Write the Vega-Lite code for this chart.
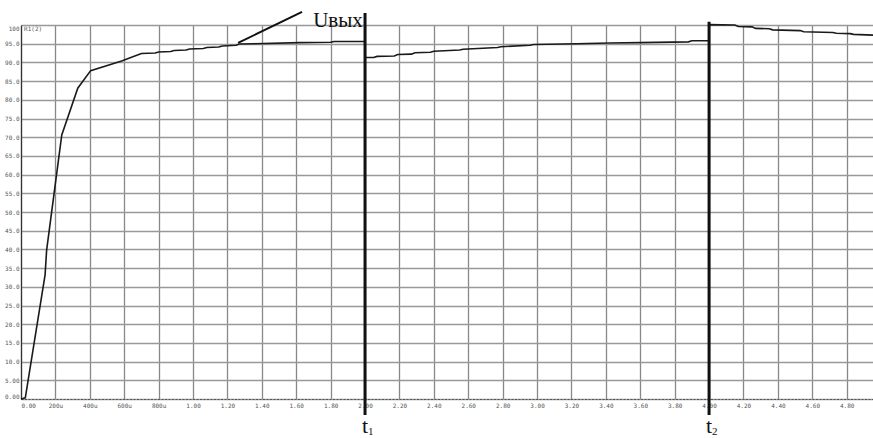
{
  "$schema": "https://vega.github.io/schema/vega-lite/v6.json",
  "width": 852,
  "height": 374,
  "autosize": {"type": "none"},
  "padding": {"left": 21, "top": 25, "right": 0, "bottom": 39},
  "background": "white",
  "config": {"view": {"stroke": null}},
  "datasets": {
    "curve": [
      {"t": 0, "u": 0}, {"t": 0.025, "u": 0.3}, {"t": 0.14, "u": 33.2}, {"t": 0.149, "u": 39.8},
      {"t": 0.237, "u": 70.6}, {"t": 0.33, "u": 83.1}, {"t": 0.405, "u": 87.8}, {"t": 0.585, "u": 90.4},
      {"t": 0.70, "u": 92.4}, {"t": 0.78, "u": 92.5}, {"t": 0.80, "u": 92.8}, {"t": 0.87, "u": 92.9},
      {"t": 0.89, "u": 93.2}, {"t": 0.96, "u": 93.3}, {"t": 0.98, "u": 93.6}, {"t": 1.06, "u": 93.7},
      {"t": 1.08, "u": 94.0}, {"t": 1.15, "u": 94.1}, {"t": 1.17, "u": 94.4}, {"t": 1.25, "u": 94.6},
      {"t": 1.27, "u": 94.9}, {"t": 1.35, "u": 95.0}, {"t": 1.62, "u": 95.3}, {"t": 1.80, "u": 95.4},
      {"t": 1.82, "u": 95.6}, {"t": 2.0, "u": 95.6}, {"t": 2.0, "u": 91.3}, {"t": 2.05, "u": 91.3},
      {"t": 2.07, "u": 91.6}, {"t": 2.17, "u": 91.7}, {"t": 2.19, "u": 92.1}, {"t": 2.27, "u": 92.2},
      {"t": 2.29, "u": 92.6}, {"t": 2.38, "u": 92.7}, {"t": 2.40, "u": 93.0}, {"t": 2.55, "u": 93.3},
      {"t": 2.57, "u": 93.5}, {"t": 2.77, "u": 94.0}, {"t": 2.79, "u": 94.2}, {"t": 2.96, "u": 94.6},
      {"t": 2.98, "u": 94.8}, {"t": 3.23, "u": 95.0}, {"t": 3.42, "u": 95.2}, {"t": 3.60, "u": 95.3},
      {"t": 3.88, "u": 95.5}, {"t": 3.90, "u": 95.8}, {"t": 4.0, "u": 95.8}, {"t": 4.0, "u": 100.1},
      {"t": 4.15, "u": 100.0}, {"t": 4.17, "u": 99.6}, {"t": 4.25, "u": 99.5}, {"t": 4.27, "u": 99.1},
      {"t": 4.35, "u": 99.0}, {"t": 4.37, "u": 98.7}, {"t": 4.53, "u": 98.5}, {"t": 4.55, "u": 98.2},
      {"t": 4.72, "u": 98.0}, {"t": 4.74, "u": 97.8}, {"t": 4.82, "u": 97.7}, {"t": 4.84, "u": 97.5},
      {"t": 4.953, "u": 97.3}
    ],
    "markers": [
      {"t": 2.0, "u": 103.2, "bottom": -4.3},
      {"t": 4.0, "u": 100.9, "bottom": -4.3}
    ],
    "labels": [
      {"t": 2.0, "u": -9.0, "label": "t", "sub": "1"},
      {"t": 4.0, "u": -9.0, "label": "t", "sub": "2"}
    ],
    "pointer": [
      {"t": 1.262, "u": 95.2}, {"t": 1.634, "u": 103.5}
    ],
    "notes": [
      {"t": 1.843, "u": 99.4, "text": "Uвых"}
    ],
    "trace": [
      {"t": 0.018, "u": 98.9, "text": "R1(2)"}
    ]
  },
  "encoding": {
    "x": {
      "field": "t", "type": "quantitative",
      "scale": {"domain": [0, 4.953], "nice": false, "zero": false},
      "axis": {
        "title": null,
        "values": [0, 0.2, 0.4, 0.6, 0.8, 1.0, 1.2, 1.4, 1.6, 1.8, 2.0, 2.2, 2.4, 2.6, 2.8, 3.0, 3.2, 3.4, 3.6, 3.8, 4.0, 4.2, 4.4, 4.6, 4.8],
        "labelExpr": "datum.value == 0 ? '0.00' : datum.value < 0.99 ? (round(datum.value * 1000) + 'u') : format(datum.value, '.2f')",
        "labelFont": "DejaVu Sans Mono", "labelFontSize": 6, "labelColor": "#555",
        "labelPadding": 3, "labelFlush": true, "labelOverlap": false, "labelBound": false,
        "ticks": false,
        "domainColor": "#555", "domainDash": [2, 1.5], "domainWidth": 1,
        "grid": true, "gridColor": "#888", "gridWidth": 1.3
      }
    },
    "y": {
      "field": "u", "type": "quantitative",
      "scale": {"domain": [0, 100], "nice": false, "zero": false},
      "axis": {
        "title": null,
        "values": [0, 5, 10, 15, 20, 25, 30, 35, 40, 45, 50, 55, 60, 65, 70, 75, 80, 85, 90, 95, 100],
        "labelExpr": "datum.value == 100 ? '100' : datum.value < 10 ? format(datum.value, '.2f') : format(datum.value, '.1f')",
        "labelFont": "DejaVu Sans Mono", "labelFontSize": 6, "labelColor": "#555",
        "labelPadding": 2, "labelFlush": true, "labelOverlap": false, "labelBound": false,
        "ticks": false,
        "domainColor": "#333", "domainWidth": 1.2,
        "grid": true, "gridColor": "#999", "gridWidth": 1.4
      }
    }
  },
  "layer": [
    {
      "data": {"name": "curve"},
      "mark": {"type": "line", "color": "#1a1a1a", "strokeWidth": 1.6, "clip": false}
    },
    {
      "data": {"name": "markers"},
      "mark": {"type": "rule", "color": "#111", "strokeWidth": 3, "clip": false},
      "encoding": {"y2": {"field": "bottom"}}
    },
    {
      "data": {"name": "labels"},
      "mark": {"type": "text", "font": "Liberation Serif", "fontSize": 22, "color": "#111", "align": "center", "baseline": "alphabetic", "clip": false},
      "encoding": {"text": {"field": "label"}}
    },
    {
      "data": {"name": "labels"},
      "mark": {"type": "text", "font": "Liberation Serif", "fontSize": 11, "color": "#111", "align": "left", "baseline": "alphabetic", "dx": 3, "dy": 2, "clip": false},
      "encoding": {"text": {"field": "sub"}}
    },
    {
      "data": {"name": "pointer"},
      "mark": {"type": "line", "color": "#111", "strokeWidth": 2, "clip": false}
    },
    {
      "data": {"name": "notes"},
      "mark": {"type": "text", "font": "Liberation Serif", "fontSize": 21, "color": "#111", "align": "center", "baseline": "alphabetic", "clip": false},
      "encoding": {"text": {"field": "text"}}
    },
    {
      "data": {"name": "trace"},
      "mark": {"type": "text", "font": "DejaVu Sans Mono", "fontSize": 6, "color": "#555", "align": "left", "baseline": "middle", "clip": false},
      "encoding": {"text": {"field": "text"}}
    }
  ]
}
